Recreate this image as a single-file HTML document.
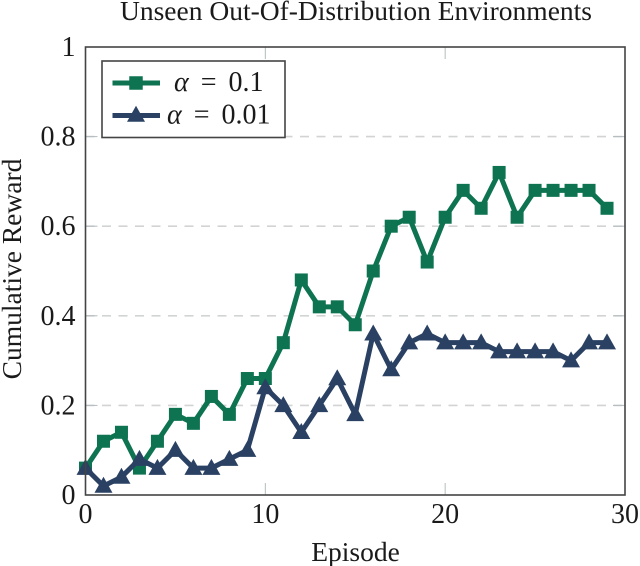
<!DOCTYPE html>
<html>
<head>
<meta charset="utf-8">
<style>
html,body{margin:0;padding:0;background:#fff;}
svg{display:block;}
text{font-family:"Liberation Serif",serif;fill:#1a1a1a;}
</style>
</head>
<body>
<svg id="chart" width="640" height="566" viewBox="0 0 640 566" xmlns="http://www.w3.org/2000/svg"></svg>
<script>
const episodes = [0,1,2,3,4,5,6,7,8,9,10,11,12,13,14,15,16,17,18,19,20,21,22,23,24,25,26,27,28,29];
const alpha01 = [0.06,0.12,0.14,0.06,0.12,0.18,0.16,0.22,0.18,0.26,0.26,0.34,0.48,0.42,0.42,0.38,0.5,0.6,0.62,0.52,0.62,0.68,0.64,0.72,0.62,0.68,0.68,0.68,0.68,0.64];
const alpha001 = [0.06,0.02,0.04,0.08,0.06,0.1,0.06,0.06,0.08,0.1,0.24,0.2,0.14,0.2,0.26,0.18,0.36,0.28,0.34,0.36,0.34,0.34,0.34,0.32,0.32,0.32,0.32,0.3,0.34,0.34];
const xTicks = [0,10,20,30];
const yTicks = [0,0.2,0.4,0.6,0.8,1];
const yTickLabels = ['0','0.2','0.4','0.6','0.8','1'];

const NS = 'http://www.w3.org/2000/svg';
const svg = document.getElementById('chart');
const L = 85.5, R = 625, T = 47, B = 495;
function xScale(v){ return L + (v - 0) / (30 - 0) * (R - L); }
function yScale(v){ return B - (v - 0) / (1 - 0) * (B - T); }
function mk(tag, attrs, parent){
  const el = document.createElementNS(NS, tag);
  for (const k in attrs) el.setAttribute(k, attrs[k]);
  (parent || svg).appendChild(el);
  return el;
}
function square(parent, x, y, color, s){
  return mk('rect', {x:x-s/2, y:y-s/2, width:s, height:s, fill:color}, parent);
}
function triangle(parent, x, y, color, w, h){
  return mk('polygon', {points:(x-w/2)+','+(y+h*0.42)+' '+(x+w/2)+','+(y+h*0.42)+' '+x+','+(y-h*0.58), fill:color}, parent);
}

// grid
yTicks.forEach(function(v){
  if (v === 0 || v === 1) return;
  const g = mk('line', {x1:L, x2:R, y1:yScale(v), y2:yScale(v), stroke:'#d2d4d4', 'stroke-width':1.6, 'stroke-dasharray':'9 7.5'});
  
  
});

// ticks
xTicks.forEach(function(v){
  [[B, B-12],[T, T+12]].forEach(function(p){
    const t = mk('line', {x1:xScale(v), x2:xScale(v), y1:p[0], y2:p[1], stroke:'#b4bcbf', 'stroke-width':1});
    
    
  });
  const lab = mk('text', {x:xScale(v), y:523, 'text-anchor':'middle', 'font-size':28});
  
  
  lab.textContent = String(v);
});
yTicks.forEach(function(v, i){
  [[L, L+12],[R, R-12]].forEach(function(p){
    const t = mk('line', {x1:p[0], x2:p[1], y1:yScale(v), y2:yScale(v), stroke:'#b4bcbf', 'stroke-width':1});
    
    
  });
  const lab = mk('text', {x:75.5, y:yScale(v)+9, 'text-anchor':'end', 'font-size':28});
  
  
  lab.textContent = yTickLabels[i];
});

// series
function drawSeries(values, color, name, marker){
  const g = mk('g', {});
  
  
  const pts = values.map(function(v, i){ return xScale(episodes[i]) + ',' + yScale(v); }).join(' ');
  mk('polyline', {points:pts, fill:'none', stroke:color, 'stroke-width':5, 'stroke-linejoin':'round'}, g);
  values.forEach(function(v, i){
    const m = marker(g, xScale(episodes[i]), yScale(v), color);
    
    
  });
}
drawSeries(alpha01, '#0d7350', 'series-alpha-0-1', function(g,x,y,c){ return square(g,x,y,c,13); });
drawSeries(alpha001, '#2a4163', 'series-alpha-0-01', function(g,x,y,c){ return triangle(g,x,y,c,18,16); });

// frame
const frame = mk('rect', {x:L, y:T, width:R-L, height:B-T, fill:'none', stroke:'#444', 'stroke-width':1.6});



// title and axis titles
const title = mk('text', {x:356, y:20, 'text-anchor':'middle', 'font-size':27.5});


title.textContent = 'Unseen Out-Of-Distribution Environments';

const xTitle = mk('text', {x:355.5, y:561, 'text-anchor':'middle', 'font-size':27.5});


xTitle.textContent = 'Episode';

const yTitle = mk('text', {x:0, y:0, 'text-anchor':'middle', 'font-size':27.5, transform:'translate(21 269) rotate(-90)'});


yTitle.textContent = 'Cumulative Reward';

// legend
const legend = mk('g', {});


mk('rect', {x:102, y:61, width:183, height:76.5, fill:'#fff', stroke:'#444', 'stroke-width':1.6}, legend);

const e1 = mk('g', {}, legend);


mk('line', {x1:112.5, x2:160, y1:83, y2:83, stroke:'#0d7350', 'stroke-width':5}, e1);
square(e1, 136, 83, '#0d7350', 13.5);
const t1 = mk('text', {x:174, y:91, 'font-size':28, 'word-spacing':5}, e1);
t1.innerHTML = '<tspan font-style="italic">α</tspan> = 0.1';

const e2 = mk('g', {}, legend);


mk('line', {x1:112.5, x2:160, y1:115.5, y2:115.5, stroke:'#2a4163', 'stroke-width':5}, e2);
triangle(e2, 136, 115, '#2a4163', 18, 16);
const t2 = mk('text', {x:167, y:123.5, 'font-size':28, 'word-spacing':5}, e2);
t2.innerHTML = '<tspan font-style="italic">α</tspan> = 0.01';
</script>
</body>
</html>
